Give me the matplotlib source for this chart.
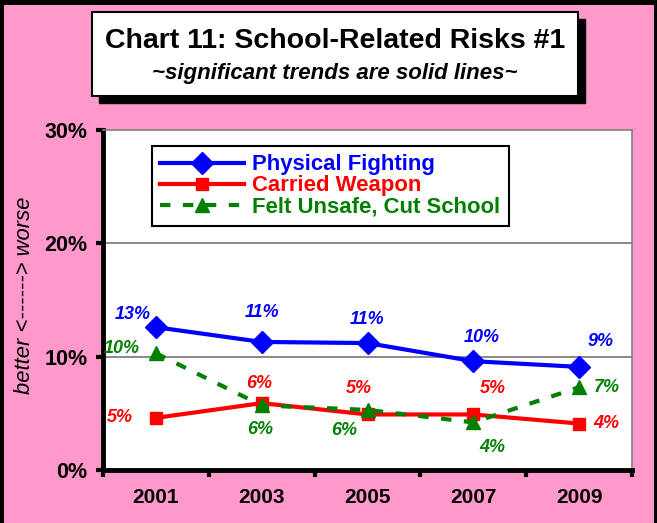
import matplotlib
matplotlib.use("Agg")
import matplotlib.pyplot as plt
from matplotlib.patches import Rectangle
import numpy as np

plt.rcParams["font.family"] = ["Liberation Sans", "DejaVu Sans"]

# =========================
# Data
# =========================
years = ["2001", "2003", "2005", "2007", "2009"]
fighting = [12.6, 11.3, 11.2, 9.6, 9.1]
weapon = [4.6, 5.9, 4.9, 4.9, 4.1]
unsafe = [10.3, 5.7, 5.3, 4.2, 7.3]
fighting_labels = ["13%", "11%", "11%", "10%", "9%"]
weapon_labels = ["5%", "6%", "5%", "5%", "4%"]
unsafe_labels = ["10%", "6%", "6%", "4%", "7%"]
y_ticks = [0, 10, 20, 30]

# label offsets in pixels (style only)
fighting_off = [(-23, 13), (0, 29), (0, 24), (8, 24), (21, 25)]
weapon_off = [(-36, 0), (-3, 20), (-9, 26), (20, 26), (27, 0)]
unsafe_off = [(-34, 5), (-2, -24), (-23, -21), (19, -25), (28, 0)]

PINK = "#FF99CC"
BLUE = "#0000FF"
RED = "#FF0000"
GREEN = "#008000"

W, H = 657, 523
fig = plt.figure(figsize=(W / 100, H / 100), dpi=100)
fig.patch.set_facecolor(PINK)

# outer black frame (top, left, right)
fig.patches.append(Rectangle((0, 1 - 5 / H), 1, 5 / H, transform=fig.transFigure,
                             facecolor="black", edgecolor="none"))
fig.patches.append(Rectangle((0, 0), 4 / W, 1, transform=fig.transFigure,
                             facecolor="black", edgecolor="none"))
fig.patches.append(Rectangle((1 - 3 / W, 0), 3 / W, 1, transform=fig.transFigure,
                             facecolor="black", edgecolor="none"))

# title box with shadow
bx0, bx1, by0, by1 = 92, 578, 12, 96
fig.patches.append(Rectangle(((bx0 + 7) / W, 1 - (by1 + 7) / H), (bx1 - bx0) / W, (by1 - by0) / H,
                             transform=fig.transFigure, facecolor="black", edgecolor="black"))
fig.patches.append(Rectangle((bx0 / W, 1 - by1 / H), (bx1 - bx0) / W, (by1 - by0) / H,
                             transform=fig.transFigure, facecolor="white", edgecolor="black", lw=1.5))
fig.text((bx0 + bx1) / 2 / W, 1 - 41 / H, "Chart 11: School-Related Risks #1",
         ha="center", va="center", fontsize=20.5, fontweight="bold")
fig.text((bx0 + bx1) / 2 / W, 1 - 74 / H, "~significant trends are solid lines~",
         ha="center", va="center", fontsize=16, fontweight="bold", fontstyle="italic")

# =========================
# Axes
# =========================
ax = fig.add_axes([103 / W, 1 - 470 / H, (632 - 103) / W, (470 - 130) / H])
ax.set_facecolor("white")
x = np.arange(len(years))

ax.plot(x, fighting, color=BLUE, lw=3, marker="D", ms=11, zorder=4,
        label="Physical Fighting")
ax.plot(x, weapon, color=RED, lw=3, marker="s", ms=9, zorder=3,
        label="Carried Weapon")
ax.plot(x, unsafe, color=GREEN, lw=3, marker="^", ms=10, zorder=3.5,
        dashes=(2.5, 3), label="Felt Unsafe, Cut School")

for vals, labs, offs, col in [(fighting, fighting_labels, fighting_off, BLUE),
                              (weapon, weapon_labels, weapon_off, RED),
                              (unsafe, unsafe_labels, unsafe_off, GREEN)]:
    for xi, v, lab, off in zip(x, vals, labs, offs):
        ax.annotate(lab, (xi, v), xytext=off, textcoords="offset pixels",
                    ha="center", va="center", color=col, fontsize=13,
                    fontweight="bold", fontstyle="italic", zorder=5)

ax.set_xlim(-0.5, len(years) - 0.5)
ax.set_ylim(0, 30)
ax.set_yticks(y_ticks)
ax.set_yticklabels([f"{t}%" for t in y_ticks], fontsize=15.5, fontweight="bold")
ax.set_xticks(np.arange(len(years) + 1) - 0.5)
ax.set_xticklabels([])
ax.set_xticks(x, minor=True)
ax.set_xticklabels(years, minor=True, fontsize=15, fontweight="bold")
ax.tick_params(axis="x", which="minor", length=0, pad=13)
ax.tick_params(axis="x", which="major", direction="out", length=5, width=3)
ax.tick_params(axis="y", direction="out", length=5, width=3, pad=6)

for yv in [10, 20]:
    ax.axhline(yv, color="#808080", lw=1.3, zorder=1)

ax.spines["left"].set_linewidth(3.5)
ax.spines["bottom"].set_linewidth(3.5)
ax.spines["top"].set_color("#808080")
ax.spines["right"].set_color("#808080")
ax.spines["top"].set_linewidth(1.2)
ax.spines["right"].set_linewidth(1.2)

fig.text(25 / W, 1 - 295 / H, "better <------> worse", rotation=90,
         ha="center", va="center", fontsize=15.8, fontstyle="italic")

leg = ax.legend(loc="upper left", bbox_to_anchor=(152 / W, 1 - 146 / H),
                bbox_transform=fig.transFigure, fancybox=False, framealpha=1,
                edgecolor="black", handlelength=3.8, labelspacing=0.0,
                borderpad=0.38, handletextpad=0.35, borderaxespad=0,
                prop={"size": 15.9, "weight": "bold"})
leg.get_frame().set_linewidth(1.5)
for txt, col in zip(leg.get_texts(), [BLUE, RED, GREEN]):
    txt.set_color(col)

fig.savefig("out.png", dpi=100, facecolor=PINK)
